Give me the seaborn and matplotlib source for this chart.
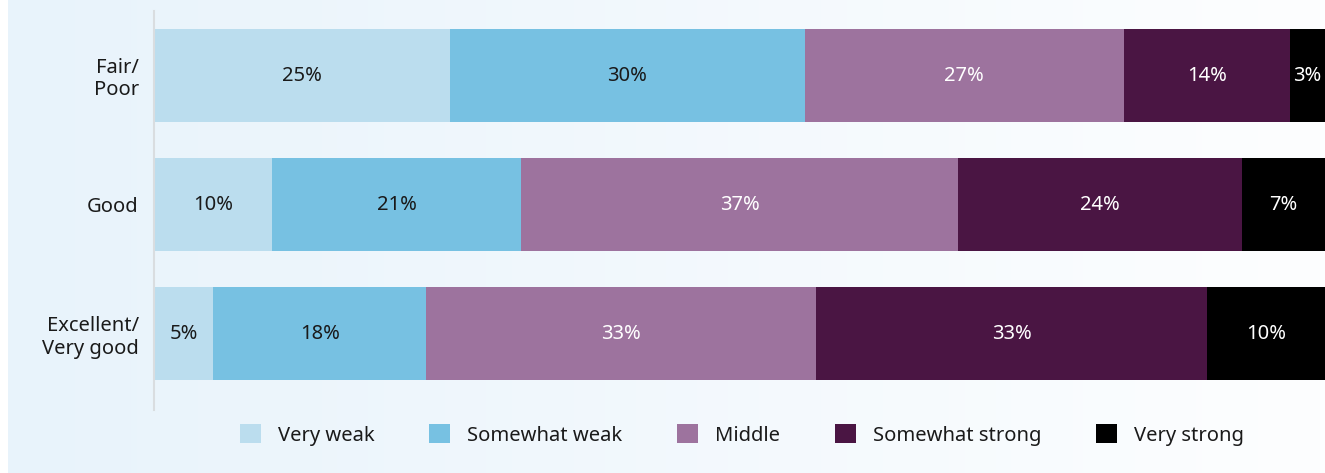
import numpy as np
import pandas as pd
import matplotlib
matplotlib.use('Agg')
import matplotlib.pyplot as plt
import seaborn as sns
from matplotlib.patches import Patch

# Data
groups = ['Fair/\nPoor', 'Good', 'Excellent/\nVery good']
levels = ['Very weak', 'Somewhat weak', 'Middle', 'Somewhat strong', 'Very strong']
very_weak = [25, 10, 5]
somewhat_weak = [30, 21, 18]
middle = [27, 37, 33]
somewhat_strong = [14, 24, 33]
very_strong = [3, 7, 10]

colors = ['#BBDDEE', '#77C1E2', '#9D739E', '#4A1543', '#000000']
text_colors = ['#1a1a1a', '#1a1a1a', 'white', 'white', 'white']

df = pd.DataFrame({'group': groups, 'Very weak': very_weak,
                   'Somewhat weak': somewhat_weak, 'Middle': middle,
                   'Somewhat strong': somewhat_strong,
                   'Very strong': very_strong})
cum = df[levels].cumsum(axis=1)

sns.set_style('white')
plt.rcParams['font.family'] = ['Noto Sans', 'DejaVu Sans']

fig = plt.figure(figsize=(13.25, 4.73), dpi=100)

# Background gradient
bg = fig.add_axes([8 / 1325, 0, 1 - 8 / 1325, 1], zorder=-10)
grad = np.linspace(0, 1, 256).reshape(1, -1)
cmap = matplotlib.colors.LinearSegmentedColormap.from_list('bg', ['#E8F3FB', '#FDFEFF'])
bg.imshow(grad, aspect='auto', cmap=cmap, extent=[0, 1, 0, 1])
bg.axis('off')

ax = fig.add_axes([154 / 1325, 63 / 473, 1 - 154 / 1325, 1 - 74 / 473])
ax.patch.set_alpha(0)

# Stacked bars: draw cumulative totals from the longest down
for lvl, col in reversed(list(zip(levels, colors))):
    sns.barplot(x=cum[lvl], y=df['group'], orient='h', color=col,
                width=0.72, saturation=1, ax=ax, linewidth=0)

# Value labels
for i in range(len(groups)):
    for j, lvl in enumerate(levels):
        val = df.loc[i, lvl]
        center = cum.loc[i, lvl] - val / 2
        ax.text(center, i, f'{val}%', ha='center', va='center',
                fontsize=14.5, color=text_colors[j])

totals = cum[levels[-1]]
ax.set_xlim(0, totals.max())
ax.set_ylim(2.59, -0.5)
ax.set_xlabel('')
ax.set_ylabel('')
ax.set_xticks([])
ax.tick_params(axis='y', length=0, pad=11, labelsize=14.5, labelcolor='#1a1a1a')
for lab in ax.get_yticklabels():
    lab.set_horizontalalignment('right')
    lab.set_linespacing(1.15)
for s in ['top', 'right', 'bottom']:
    ax.spines[s].set_visible(False)
ax.spines['left'].set_color('#d9dde0')
ax.spines['left'].set_linewidth(1.5)

handles = [Patch(facecolor=c, edgecolor='none', label=l) for c, l in zip(colors, levels)]
fig.legend(handles=handles, loc='center', bbox_to_anchor=(742 / 1325, 1 - 435 / 473),
           ncol=5, frameon=False, fontsize=14.5, handlelength=1.05, handleheight=1.05,
           handletextpad=0.85, columnspacing=2.7, labelcolor='#1a1a1a')

fig.savefig('out.png', dpi=100)
